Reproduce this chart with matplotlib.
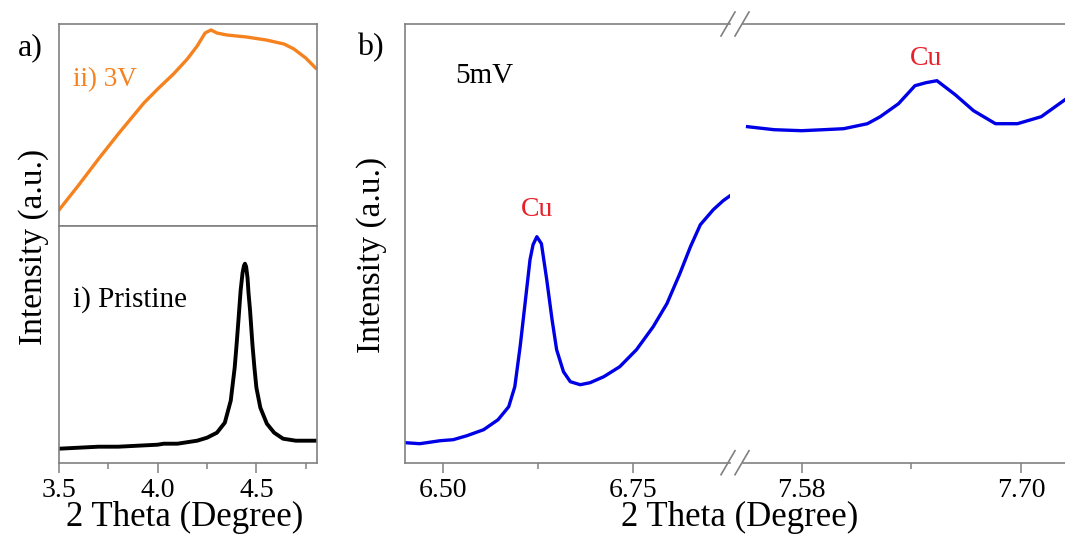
import matplotlib
matplotlib.use("Agg")
import matplotlib.pyplot as plt
from matplotlib.lines import Line2D
from matplotlib.ticker import FixedLocator, FormatStrFormatter

plt.rcParams['font.family'] = ['Liberation Serif', 'DejaVu Serif']

# panel a, i) pristine (black)
pristine_x = [3.50, 3.60, 3.70, 3.80, 3.90, 4.00, 4.03, 4.10, 4.20, 4.25, 4.30, 4.34, 4.37,
              4.39, 4.40, 4.41, 4.42, 4.43, 4.437, 4.442, 4.448, 4.455, 4.46, 4.468, 4.48,
              4.49, 4.50, 4.52, 4.553, 4.59, 4.635, 4.70, 4.80]
pristine_y = [14, 15, 16, 16, 17, 18, 19, 19, 22, 25, 30, 40, 62,
              95, 119, 145, 172, 190, 197, 199, 196, 185, 170, 152, 118,
              95, 75, 55, 39, 30, 24, 22, 22]

# panel a, ii) 3V (orange)
v3_x = [3.50, 3.60, 3.70, 3.80, 3.93, 4.00, 4.08, 4.15, 4.20, 4.24, 4.27, 4.30,
        4.35, 4.45, 4.55, 4.64, 4.69, 4.75, 4.80]
v3_y = [16, 41, 67, 92, 123, 137, 152, 167, 180, 193, 196, 193,
        191, 189, 186, 182, 177, 168, 158]

# panel b, 5mV (blue), low angle part
low_x = [6.450, 6.469, 6.496, 6.513, 6.531, 6.553, 6.572, 6.586, 6.594, 6.601, 6.607,
         6.614, 6.618, 6.623, 6.629, 6.636, 6.643, 6.649, 6.658, 6.667, 6.680, 6.693,
         6.711, 6.732, 6.754, 6.776, 6.794, 6.811, 6.825, 6.838, 6.855, 6.868, 6.879]
low_y = [20, 19, 22, 23, 27, 33, 43, 56, 76, 116, 156,
         203, 218, 226, 219, 183, 143, 113, 91, 81, 78, 80,
         86, 96, 113, 136, 159, 189, 216, 238, 253, 262, 268]

# panel b, high angle part
high_x = [7.5505, 7.565, 7.580, 7.592, 7.603, 7.616, 7.623, 7.633, 7.642, 7.648, 7.654,
          7.664, 7.674, 7.686, 7.698, 7.711, 7.724]
high_y = [336, 333, 332, 333, 334, 339, 346, 359, 377, 380, 382,
          368, 352, 339, 339, 346, 363]

W, H = 1065, 536
gray = '#808080'
tick_fs = 20


def fx(px):
    return px / W


def fy(py):
    return 1 - py / H


def style(ax, xlim, ylim, major, minor, fmt, spines_off=()):
    ax.set_xlim(*xlim)
    ax.set_ylim(*ylim)
    ax.set_yticks([])
    ax.xaxis.set_major_locator(FixedLocator(major))
    ax.xaxis.set_minor_locator(FixedLocator(minor))
    ax.xaxis.set_major_formatter(FormatStrFormatter(fmt))
    ax.tick_params(axis='x', which='major', direction='out', length=7, width=1.1,
                   color=gray, labelsize=tick_fs, pad=4)
    ax.tick_params(axis='x', which='minor', direction='out', length=4, width=1.1, color=gray)
    for s in ax.spines.values():
        s.set_color(gray)
        s.set_linewidth(1.2)
    for s in spines_off:
        ax.spines[s].set_visible(False)


fig = plt.figure(figsize=(W / 100, H / 100), dpi=100)

a_left, a_right = 59, 317
top_px, mid_px, bot_px = 24, 226, 462.7

ax_top = fig.add_axes([fx(a_left), fy(mid_px), fx(a_right - a_left), (mid_px - top_px) / H])
ax_bot = fig.add_axes([fx(a_left), fy(bot_px), fx(a_right - a_left), (bot_px - mid_px) / H])

ax_top.plot(v3_x, v3_y, color='#f5821f', lw=2.4)
style(ax_top, (3.5, 4.807), (0, 202), [3.5, 4.0, 4.5], [3.75, 4.25, 4.75], '%.1f')
ax_top.set_xticks([])
ax_top.set_xticks([], minor=True)

ax_bot.plot(pristine_x, pristine_y, color='black', lw=2.8)
style(ax_bot, (3.5, 4.807), (0, 236.7), [3.5, 4.0, 4.5], [3.75, 4.25, 4.75], '%.1f')

b_left, b_brk1, b_brk2 = 405, 730, 743
ax_l = fig.add_axes([fx(b_left), fy(bot_px), fx(b_brk1 - b_left), (bot_px - top_px) / H])
ax_r = fig.add_axes([fx(b_brk2), fy(bot_px), fx(W - b_brk2), (bot_px - top_px) / H])

ax_l.plot(low_x, low_y, color='#0000e6', lw=2.4)
style(ax_l, (6.4496, 6.877), (0, 438.7), [6.50, 6.75], [6.625], '%.2f', ('right',))
ax_r.plot(high_x, high_y, color='#0000e6', lw=2.4)
style(ax_r, (7.548, 7.724), (0, 438.7), [7.58, 7.70], [7.64], '%.2f', ('left', 'right'))

# break marks
for cx in (728, 742):
    for cy in (top_px, bot_px):
        fig.add_artist(Line2D([fx(cx - 7), fx(cx + 7)], [fy(cy + 12), fy(cy - 12)],
                              color=gray, lw=1.2))

# texts
fig.text(fx(30), fy(48), 'a)', fontsize=23, ha='center', va='center')
fig.text(fx(370), fy(48), 'b)', fontsize=23, ha='center', va='center')
fig.text(fx(73), fy(80), 'ii) 3V', fontsize=19.5, color='#f5821f', ha='left', va='center')
fig.text(fx(73), fy(300), 'i) Pristine', fontsize=21, ha='left', va='center')
fig.text(fx(455), fy(76), '5mV', fontsize=21, ha='left', va='center')
ax_l.text(6.623, 253, 'Cu', fontsize=20, color='#e8202a', ha='center', va='center')
ax_r.text(7.648, 404, 'Cu', fontsize=20, color='#e8202a', ha='center', va='center')

fig.text(fx(185), fy(534), '2 Theta (Degree)', fontsize=25, ha='center', va='bottom')
fig.text(fx(740), fy(534), '2 Theta (Degree)', fontsize=25, ha='center', va='bottom')
fig.text(fx(34), fy(247), 'Intensity (a.u.)', fontsize=24, rotation=90, ha='center', va='center')
fig.text(fx(372), fy(255), 'Intensity (a.u.)', fontsize=24, rotation=90, ha='center', va='center')

fig.savefig('out.png', dpi=100)
